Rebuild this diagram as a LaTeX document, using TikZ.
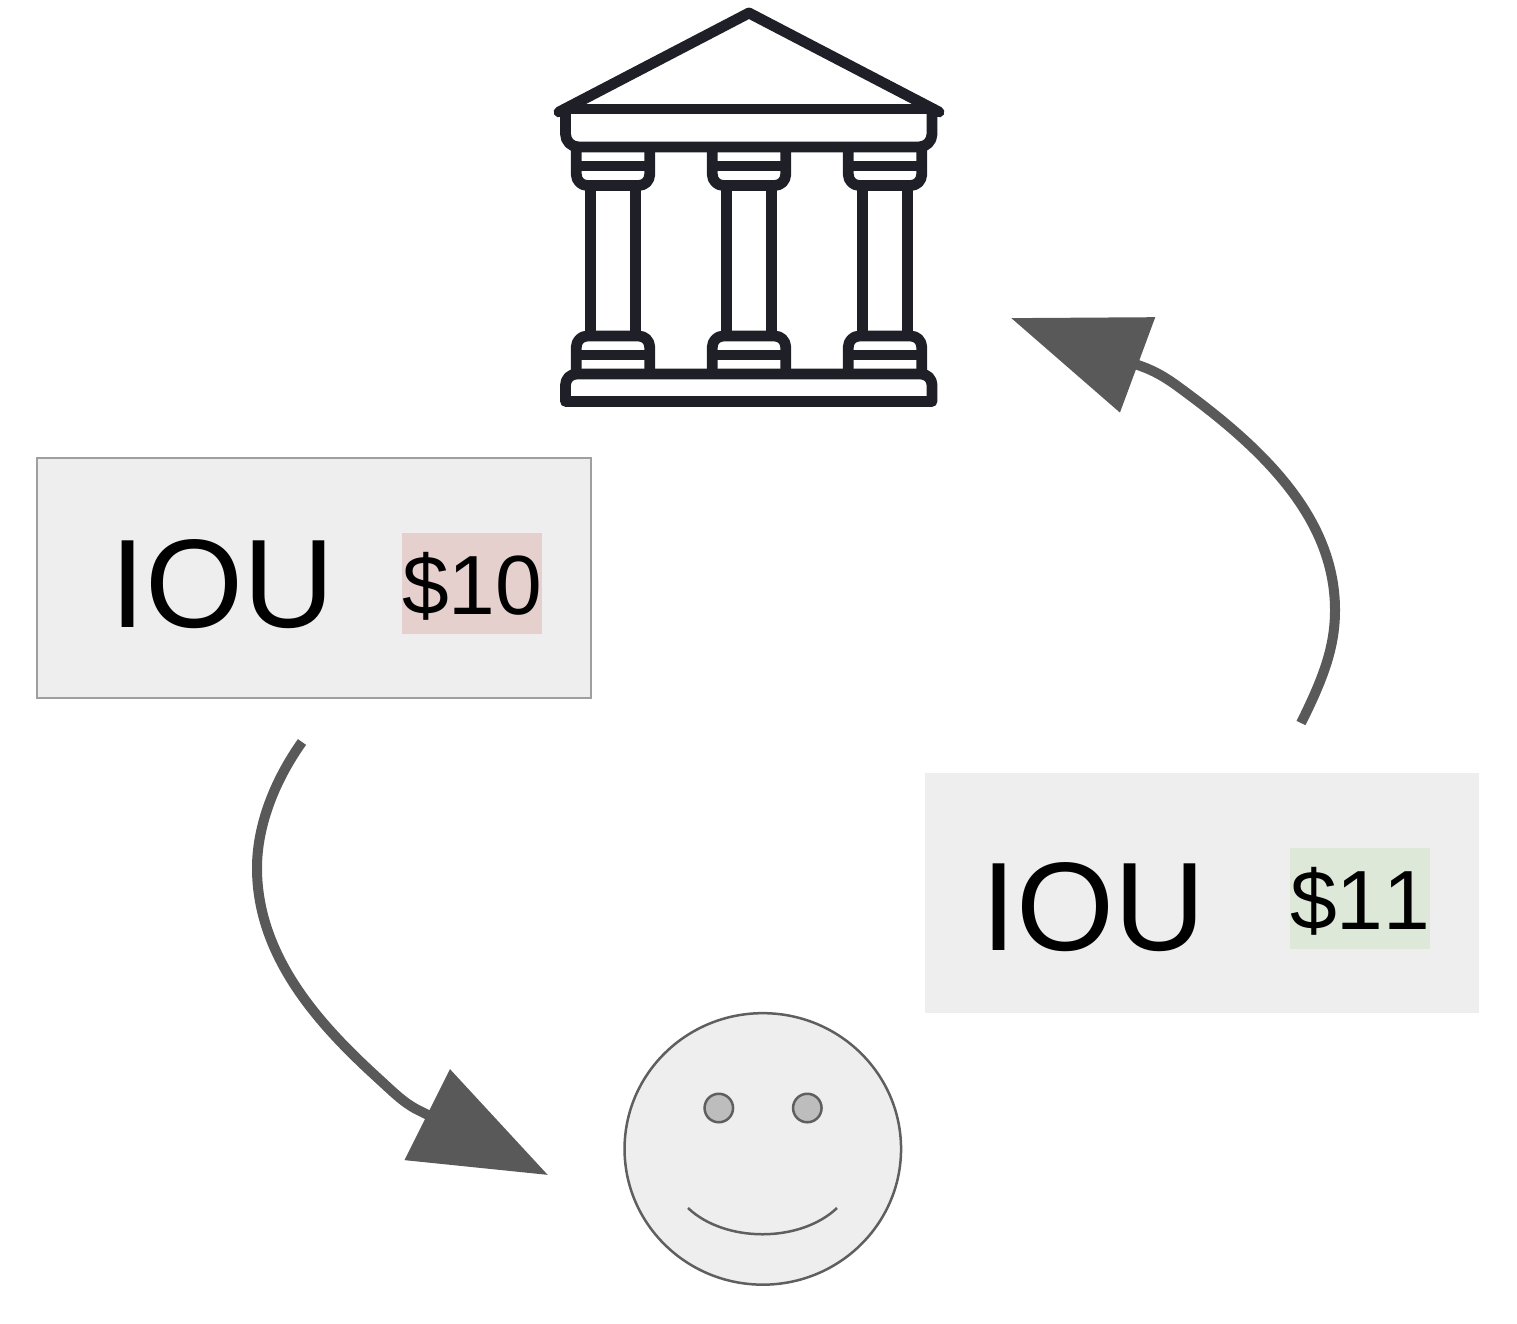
\documentclass[tikz,border=0pt]{standalone}
\usepackage{fontspec}
\setmainfont[Kerning=Off]{Liberation Sans}
\usetikzlibrary{arrows.meta,shapes.geometric}
\definecolor{bankink}{HTML}{1F1F27}
\definecolor{flowgray}{HTML}{595959}
\definecolor{paleface}{HTML}{EEEEEE}
\definecolor{facegray}{HTML}{5F5F5F}
\definecolor{eyegray}{HTML}{BDBDBD}
\definecolor{owered}{HTML}{E6D0CE}
\definecolor{owegreen}{HTML}{DDE8D9}
\tikzset{
  bankline/.style={draw=bankink,line width=10.8pt,line join=round},
  flowline/.style={draw=flowgray,line width=10pt,-{Triangle[length=135pt,width=99pt]}},
  ioubox/.style={fill=paleface,minimum width=554pt,minimum height=240pt,inner sep=0pt,anchor=north west},
  ioutext/.style={inner sep=0pt,anchor=base west,font=\fontsize{126}{126}\selectfont},
  amounttag/.style={inner sep=0pt,anchor=base west,minimum width=140pt,text height=81pt,text depth=20pt,font=\fontsize{84}{84}\selectfont},
  faceline/.style={draw=facegray,line width=2.5pt},
}
\begin{document}
\begin{tikzpicture}[x=1pt,y=-1pt]
\useasboundingbox (0,0) rectangle (1517,1323);
% bank
\draw[bankline,line cap=round] (559,112)--(749,13)--(939,112);
\draw[bankline] (565.5,109)--(932,109);
\draw[bankline] (565.5,109)[rounded corners=13pt]--(565.5,147)--(932,147)--(932,109);
\foreach \cx in {613,749,885}{
  \draw[bankline] (\cx-36.7,147)[rounded corners=11pt]--(\cx-36.7,185.5)--(\cx+36.7,185.5)--(\cx+36.7,147);
  \draw[bankline] (\cx-36.7,166)--(\cx+36.7,166);
  \draw[bankline] (\cx-22.3,185.5)--(\cx-22.3,336);
  \draw[bankline] (\cx+22.3,185.5)--(\cx+22.3,336);
  \draw[bankline] (\cx-36.7,374)[rounded corners=11pt]--(\cx-36.7,336)--(\cx+36.7,336)--(\cx+36.7,374);
  \draw[bankline] (\cx-36.7,355)--(\cx+36.7,355);
}
\draw[bankline] (565.5,401.5)[rounded corners=11pt]--(565.5,374)--(932,374)[sharp corners]--(932,401.5)--cycle;
% IOU boxes
\node[ioubox,draw=facegray!60,line width=2pt] (iouTen) at (36,457) {};
\node[ioutext] (iouTenText) at (110,627.7) {IOU};
\node[amounttag,fill=owered] (amountTen) at (402,614) {\$10};
\node[ioubox] (iouEleven) at (925,773) {};
\node[ioutext] (iouElevenText) at (981.6,950) {IOU};
\node[amounttag,fill=owegreen] (amountEleven) at (1290,929) {\$11};
% person
\node[ellipse,faceline,fill=paleface,minimum width=276.5pt,minimum height=271.5pt,inner sep=0pt] (person) at (762.8,1148.9) {};
\node[circle,faceline,fill=eyegray,minimum size=28.5pt,inner sep=0pt] (eyeLeft) at (718.8,1108) {};
\node[circle,faceline,fill=eyegray,minimum size=28.5pt,inner sep=0pt] (eyeRight) at (807.3,1108) {};
\coordinate (smileLeft) at (688,1208);
\coordinate (smileRight) at (837,1208);
\draw[faceline] (smileLeft) .. controls (725,1243) and (800,1243) .. (smileRight);
% flows
\coordinate (tenStart) at (302,742);
\coordinate (personTip) at (548,1175);
\coordinate (elevenStart) at (1301,723);
\coordinate (bankTip) at (1011,318);
\draw[flowline] (tenStart) .. controls (275,780) and (257,825) .. (257,868)
  .. controls (257,960) and (325,1030) .. (380,1080)
  .. controls (392,1091) and (403,1102) .. (416,1109) -- (personTip);
\draw[flowline] (elevenStart) .. controls (1325,675) and (1335,645) .. (1335,610)
  .. controls (1335,515) and (1258,445) .. (1180,388)
  .. controls (1168,379) and (1158,373) .. (1146,368) -- (bankTip);
\end{tikzpicture}
\end{document}
